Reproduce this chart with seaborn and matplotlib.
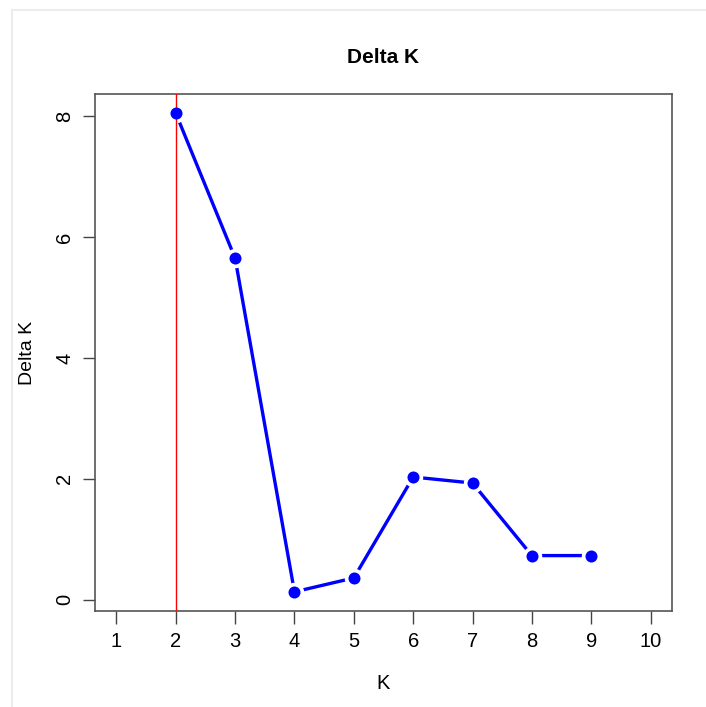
import numpy as np
import pandas as pd
import matplotlib
matplotlib.use("Agg")
import matplotlib.pyplot as plt
import seaborn as sns
from matplotlib.patches import Rectangle

# Delta K values (Evanno method)
k_values = [2, 3, 4, 5, 6, 7, 8, 9]
delta_k = [8.05, 5.65, 0.13, 0.36, 2.03, 1.93, 0.73, 0.73]
best_k = 2
x_ticks = [1, 2, 3, 4, 5, 6, 7, 8, 9, 10]
y_ticks = [0, 2, 4, 6, 8]

df = pd.DataFrame({"K": k_values, "Delta K": delta_k})

sns.set_style("white")
plt.rcParams["font.family"] = ["Liberation Sans", "DejaVu Sans"]
plt.rcParams["text.color"] = "black"
plt.rcParams["axes.labelcolor"] = "black"
plt.rcParams["xtick.color"] = "black"
plt.rcParams["ytick.color"] = "black"

fig = plt.figure(figsize=(7.06, 7.07), dpi=100)
ax = fig.add_axes([0.1346, 0.1358, 0.8172, 0.7312])

# line with white halo around the points (R type="b" look)
sns.lineplot(data=df, x="K", y="Delta K", ax=ax, color="blue", linewidth=2.4,
             marker="o", markersize=10, markeredgecolor="white",
             markeredgewidth=4, zorder=2)
ax.axvline(best_k, color="red", linewidth=1, zorder=3)
sns.scatterplot(data=df, x="K", y="Delta K", ax=ax, color="blue", s=75,
                linewidth=0, zorder=4)

rng = max(delta_k) - min(delta_k)
ax.set_ylim(min(delta_k) - 0.04 * rng, max(delta_k) + 0.04 * rng)
ax.set_xlim(1 - 0.04 * 9, 10 + 0.04 * 9)
ax.set_xticks(x_ticks)
ax.set_yticks(y_ticks)
ax.set_yticklabels([str(v) for v in y_ticks], rotation=90, va="center")
ax.tick_params(axis="both", direction="out", length=9, width=1, color="#444444",
               labelsize=14.5, pad=6, left=True, bottom=True)

for s in ax.spines.values():
    s.set_color("#555555")
    s.set_linewidth(1.2)

ax.set_xlabel("K", fontsize=14.5, labelpad=17)
ax.set_ylabel("Delta K", fontsize=14, labelpad=14)
ax.set_title("Delta K", fontsize=15, fontweight="bold", pad=22)

# faint frame of the original screenshot
fig.patches.append(Rectangle((12 / 706, -0.01), 1.0, 1 - 10 / 707 + 0.01,
                             transform=fig.transFigure, fill=False,
                             edgecolor="#ececec", linewidth=1.5))

fig.savefig("out.png", dpi=100)
